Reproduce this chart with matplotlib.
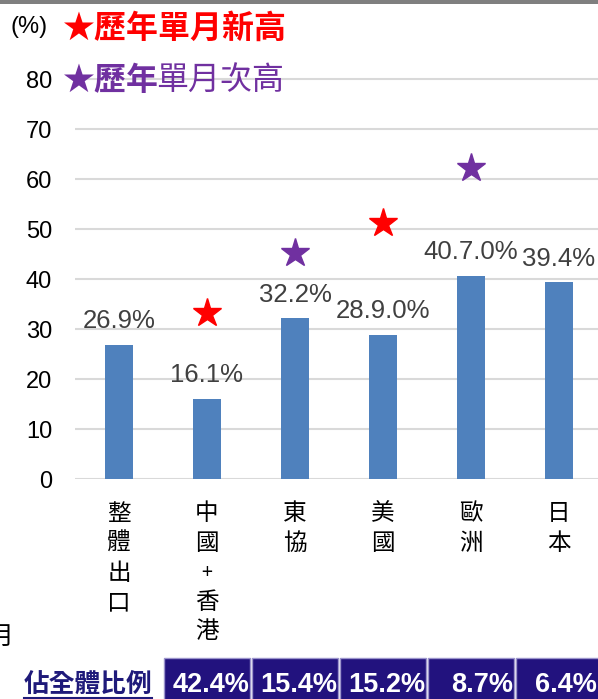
import matplotlib
matplotlib.use("Agg")
import matplotlib.pyplot as plt
from matplotlib.patches import Rectangle
from matplotlib.lines import Line2D
from matplotlib import transforms

# ---------------- data ----------------
categories = ["整體出口", "中國+香港", "東協", "美國", "歐洲", "日本"]
values = [26.9, 16.1, 32.2, 28.9, 40.7, 39.4]
value_labels = ["26.9%", "16.1%", "32.2%", "28.9.0%", "40.7.0%", "39.4%"]
record_idx = [1, 3]            # ★ 歷年單月新高
record_y = [33.2, 51.2]
second_idx = [2, 4]            # ★ 歷年單月次高
second_y = [45.2, 62.2]
share_idx = [1, 2, 3, 4, 5]
share_labels = ["42.4%", "15.4%", "15.2%", "8.7%", "6.4%"]
yticks = [0, 10, 20, 30, 40, 50, 60, 70, 80]

W, H = 598, 699
CJK = ["Noto Sans CJK TC", "DejaVu Sans"]
LAT = ["Liberation Sans", "DejaVu Sans"]

fig = plt.figure(figsize=(W / 100, H / 100), dpi=100)

def fx(px):
    return px / W

def fy(py):
    return 1 - py / H

# top gray bar
fig.add_artist(Rectangle((0, fy(4)), 1, 4 / H, transform=fig.transFigure,
                         color="#7F7F7F", lw=0))

ppu = 5.0
ymax = 82
ax = fig.add_axes([fx(75), fy(479.3), 528 / W, ymax * ppu / H])
x = list(range(len(categories)))
ax.bar(x, values, width=0.32, color="#4F81BD", zorder=3)
ax.set_xlim(-0.5, 5.5)
ax.set_ylim(0, ymax)
ax.set_yticks(yticks)
ax.set_yticklabels([str(t) for t in yticks], fontsize=17, family=LAT, color="black")
ax.tick_params(axis="y", length=0, pad=16.5)
ax.set_xticks([])
for s in ax.spines.values():
    s.set_visible(False)
ax.grid(axis="y", color="#D9D9D9", lw=1.5, zorder=0)
ax.set_axisbelow(True)

for xi, v, lab in zip(x, values, value_labels):
    ax.annotate(lab, (xi, v), xytext=(0, 12), textcoords="offset points",
                ha="center", va="baseline", fontsize=18.5, family=LAT,
                color="#404040", zorder=4)

ax.plot(record_idx, record_y, linestyle="none", marker="*", ms=21,
        color="#FF0000", mec="#FF0000", zorder=5)
ax.plot(second_idx, second_y, linestyle="none", marker="*", ms=21,
        color="#7030A0", mec="#7030A0", zorder=5)

# vertical category labels
bt = transforms.blended_transform_factory(ax.transData, fig.transFigure)
for xi, cat in zip(x, categories):
    for k, ch in enumerate(cat):
        fig.text(xi, fy(514 + 29.5 * k), ch, transform=bt, ha="center",
                 va="center", fontsize=17 if ch != "+" else 14,
                 family=CJK, color="black")

# headers
fig.text(fx(29), fy(27), "(%)", ha="center", va="center", fontsize=17,
         family=LAT, color="black")
fig.text(fx(63), fy(29), "★歷年單月新高", ha="left", va="center",
         fontsize=23, family=CJK, color="#FF0000", fontweight="bold")
t2 = fig.text(fx(63), fy(81), "★歷年", ha="left", va="center",
              fontsize=23, family=CJK, color="#7030A0", fontweight="bold")
ax.annotate("單月次高", xy=(1, 0.5), xycoords=t2, xytext=(-2, 0),
            textcoords="offset points", ha="left", va="center",
            fontsize=23, family=CJK, color="#7030A0",
            annotation_clip=False)

# cropped left fragment
fig.text(fx(1), fy(637), "月", ha="center", va="center", fontsize=18,
         family=CJK, color="black")

# bottom share table
tb = transforms.blended_transform_factory(ax.transData, fig.transFigure)
xlim_max_data = ax.transData.inverted().transform((W - 1.5, 0))[0]
for xi, lab in zip(share_idx, share_labels):
    fig.add_artist(Rectangle((xi - 0.483, fy(699 + 5)), 0.966, (699 + 5 - 658) / H,
                             transform=tb, facecolor="#22127E",
                             edgecolor="#9C94CC", lw=1.0))
    fig.text(min(xi + 0.483, xlim_max_data), fy(698.5), lab, transform=tb,
             ha="right", va="bottom", fontsize=19.5, family=LAT,
             fontweight="bold", color="white")

lab_t = fig.text(fx(88), fy(684), "佔全體比例", ha="center", va="center",
                 fontsize=18.5, family=CJK, fontweight="bold", color="#1F1A7A")
fig.canvas.draw()
bb = lab_t.get_window_extent()
fig.add_artist(Line2D([bb.x0 / W, bb.x1 / W], [fy(697.5), fy(697.5)],
                      transform=fig.transFigure, color="#1F1A7A", lw=1.5))

fig.savefig("out.png", dpi=100)
